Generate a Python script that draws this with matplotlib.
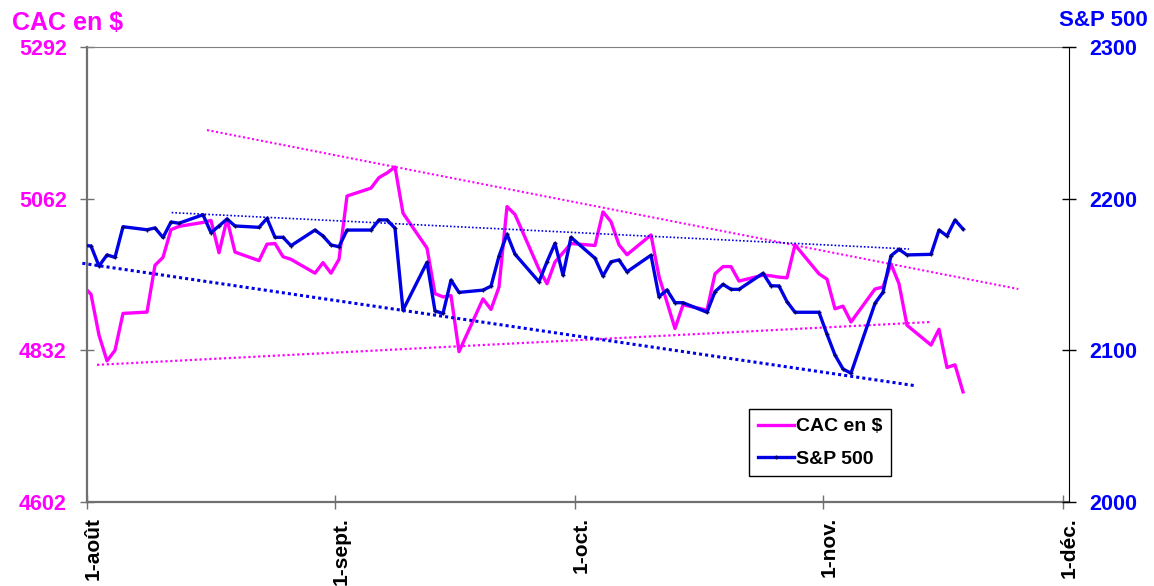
import numpy as np
import pandas as pd
import matplotlib
matplotlib.use('Agg')
import matplotlib.pyplot as plt
import matplotlib.transforms as mtransforms

plt.rcParams['font.family'] = ['Liberation Sans', 'DejaVu Sans']
plt.rcParams['font.weight'] = 'bold'

# trading days, 29 Jul 2016 -> 18 Nov 2016 (first one only shows as a clipped stub)
dates = pd.bdate_range('2016-07-29', '2016-11-18')

cac = [4955,
       4917, 4855, 4816, 4832, 4888, 4890, 4961, 4973, 5015, 5020,
       5026, 5029, 4980, 5031, 4981, 4968, 4993, 4994, 4974, 4970,
       4949, 4965, 4949,
       4970, 5066, 5078, 5094, 5101, 5110, 5040, 4987, 4918, 4913,
       4915, 4830, 4910, 4894, 4928, 5050, 5038, 4955, 4933, 4966,
       4980, 4994,
       4991, 5042, 5027, 4992, 4977, 5007, 4944, 4905, 4865, 4901,
       4893, 4948, 4959, 4959, 4937, 4946, 4945, 4943, 4942, 4992,
       4948,
       4940, 4895, 4899, 4875, 4925, 4928, 4963, 4933, 4870, 4840,
       4864, 4806, 4810, 4769]

sp500 = [2170.0,
         2168.8, 2155.6, 2162.9, 2161.3, 2181.5, 2179.5, 2180.7, 2174.4, 2184.6, 2183.8,
         2189.4, 2177.6, 2182.0, 2186.6, 2182.0, 2181.1, 2187.0, 2174.5, 2174.5, 2169.0,
         2179.3, 2175.4, 2169.5,
         2168.3, 2179.3, 2179.3, 2186.0, 2186.0, 2180.5, 2126.5, 2158.0, 2126.0, 2124.3,
         2146.3, 2138.2, 2139.7, 2142.3, 2162.1, 2176.6, 2163.4, 2145.2, 2158.4, 2170.5,
         2149.6, 2174.5,
         2160.7, 2149.0, 2158.4, 2159.6, 2151.8, 2162.7, 2135.4, 2139.8, 2131.4, 2131.4,
         2125.1, 2138.7, 2143.5, 2140.2, 2140.2, 2150.8, 2142.6, 2142.4, 2132.1, 2125.1,
         2125.1,
         2110.6, 2096.9, 2087.7, 2084.9, 2131.0, 2138.3, 2162.4, 2166.6, 2162.9, 2163.3,
         2179.3, 2175.4, 2185.9, 2180.0]

# hand drawn trend lines (start, end)
cac_top_x = ['2016-08-16 00:00', '2016-11-25 10:00']
cac_top_y = [5166, 4925]
cac_bot_x = ['2016-08-02 06:00', '2016-11-14 14:00']
cac_bot_y = [4810, 4875]
sp_top_x = ['2016-08-11 14:00', '2016-11-11 18:00']
sp_top_y = [2190.8, 2166.8]
sp_bot_x = ['2016-07-31 10:00', '2016-11-12 12:00']
sp_bot_y = [2157.4, 2076.7]

cac_ticks = [4602, 4832, 5062, 5292]
sp_ticks = [2000, 2100, 2200, 2300]
month_ticks = ['2016-08-01', '2016-09-01', '2016-10-01', '2016-11-01', '2016-12-01']
month_labels = ['1-août', '1-sept.', '1-oct.', '1-nov.', '1-déc.']

pink = '#FF00FF'
blue = '#0000E6'

fig = plt.figure(figsize=(11.54, 5.86), dpi=100)
ax = fig.add_axes([87 / 1154, 1 - 502 / 586, (1069 - 87) / 1154, 455 / 586])
ax2 = ax.twinx()

# excel puts each day in the middle of its slot
x = dates + pd.Timedelta(hours=12)

l1, = ax.plot(x, cac, color=pink, lw=2.4, label='CAC en $')
ax.plot(pd.to_datetime(cac_top_x), cac_top_y, color=pink, lw=1.5, ls=(0, (1, 1.2)))
ax.plot(pd.to_datetime(cac_bot_x), cac_bot_y, color=pink, lw=1.6, ls=(0, (1, 1.2)))

l2, = ax2.plot(x, sp500, color=blue, lw=2.4, marker='+', ms=3.5, mew=1,
               mec='#000066', label='S&P 500')
ax2.plot(pd.to_datetime(sp_top_x), sp_top_y, color=blue, lw=1.2, ls=(0, (1, 1.2)))
ax2.plot(pd.to_datetime(sp_bot_x), sp_bot_y, color=blue, lw=2.2, ls=(0, (1, 1)),
         clip_on=False)

ax.set_xlim(pd.Timestamp('2016-08-01'), pd.Timestamp('2016-12-01 18:00'))
ax.set_ylim(4602, 5292)
ax2.set_ylim(2000, 2300)
ax.set_yticks(cac_ticks)
ax2.set_yticks(sp_ticks)
ax.set_xticks(pd.to_datetime(month_ticks))
ax.set_xticklabels(month_labels, rotation=90, ha='center', va='top')
ax.minorticks_off()

ax.tick_params(axis='y', direction='inout', length=10, width=1, color='#707070',
               labelcolor=pink, labelsize=15.5, pad=9.5)
ax2.tick_params(axis='y', direction='inout', length=10, width=1, color='black',
                labelcolor='#0000FF', labelsize=15.5, pad=9.5)
ax.tick_params(axis='x', direction='inout', length=10, width=1, color='#707070',
               labelsize=15, pad=6)

for s in ['left', 'bottom']:
    ax.spines[s].set_color('#707070')
    ax.spines[s].set_linewidth(1.6)
ax.spines['top'].set_color('#808080')
ax.spines['right'].set_visible(False)
for s in ['left', 'bottom', 'top']:
    ax2.spines[s].set_visible(False)
ax2.spines['right'].set_color('black')

shift = mtransforms.ScaledTranslation(6 / 100, 0, fig.dpi_scale_trans)
for lab in ax.get_xticklabels():
    lab.set_transform(lab.get_transform() + shift)

fig.text(12 / 1154, 1 - 29.5 / 586, 'CAC en $', color=pink, fontsize=18,
         fontweight='bold', va='baseline')
fig.text(1059 / 1154, 1 - 26 / 586, 'S&P 500', color='#0000FF', fontsize=16,
         fontweight='bold', va='baseline')

leg = ax2.legend([l1, l2], ['CAC en $', 'S&P 500'], loc='upper left',
                 bbox_to_anchor=(749 / 1154, 1 - 409 / 586), bbox_transform=fig.transFigure,
                 fancybox=False, edgecolor='black', framealpha=1,
                 prop=dict(size=14, weight='bold'), borderpad=0.45,
                 handlelength=1.85, handletextpad=0.1, labelspacing=0.75,
                 borderaxespad=0)
leg.get_frame().set_linewidth(1.0)

fig.savefig('out.png', dpi=100)
